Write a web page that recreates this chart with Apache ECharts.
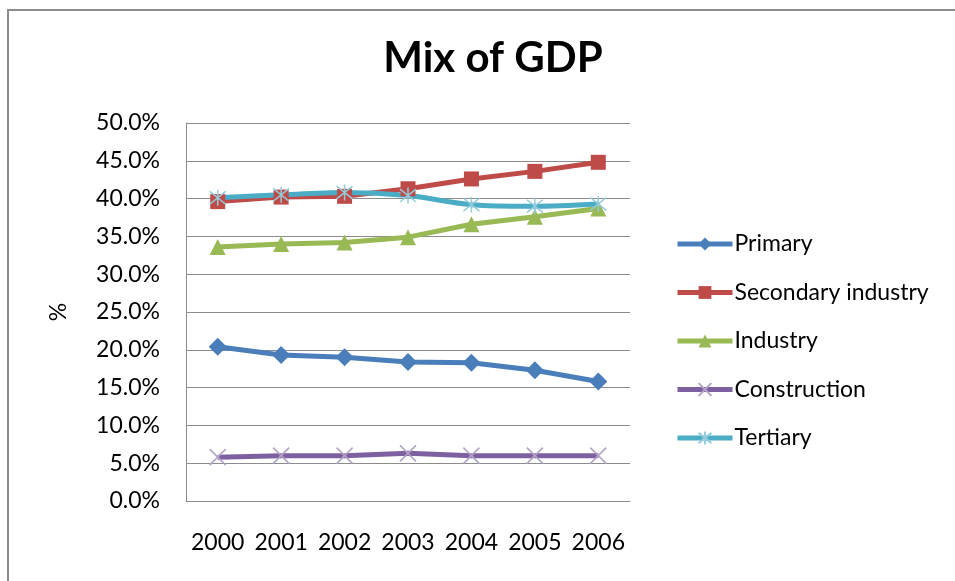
<!DOCTYPE html>
<html>
<head>
<meta charset="utf-8">
<script src="https://cdn.jsdelivr.net/npm/echarts@6/dist/echarts.min.js"></script>
<style>
  html, body { margin: 0; padding: 0; background: #fff; }
  #chart { width: 955px; height: 581px; }
</style>
</head>
<body>
<div id="chart"></div>
<script>
// years on the x axis
var years = ['2000', '2001', '2002', '2003', '2004', '2005', '2006'];
// shares of GDP, in percent
var primary = [20.4, 19.3, 19.0, 18.4, 18.3, 17.3, 15.8];
var secondary = [39.6, 40.2, 40.3, 41.3, 42.6, 43.6, 44.8];
var industry = [33.6, 34.0, 34.2, 34.9, 36.6, 37.6, 38.7];
var construction = [5.8, 6.0, 6.0, 6.3, 6.0, 6.0, 6.0];
var tertiary = [40.1, 40.5, 40.8, 40.4, 39.2, 39.0, 39.3];

var font = 'Lato, "Open Sans", sans-serif';
var crossPath = 'path://M0,0L10,10M10,0L0,10';
var starPath = 'path://M5,0L5,10M1,1L9,9M9,1L1,9';

function lineSeries(name, data, color, symbol, size, markerColor, stroked, smooth) {
    var s = {
        name: name,
        type: 'line',
        data: data,
        smooth: smooth || false,
        symbol: symbol,
        symbolSize: size,
        showAllSymbol: true,
        lineStyle: { color: color, width: 5 },
        itemStyle: { color: markerColor }
    };
    if (stroked) {
        s.itemStyle = { color: 'rgba(0,0,0,0)', borderColor: markerColor, borderWidth: 1.5 };
    }
    return s;
}

var myChart = echarts.init(document.getElementById('chart'));
var option = {
    backgroundColor: '#fff',
    animation: false,
    title: {
        text: 'Mix of GDP',
        left: 488,
        textAlign: 'center',
        top: 32,
        textStyle: { fontFamily: font, fontSize: 42, fontWeight: 'bold', color: '#000' }
    },
    graphic: [{
        type: 'rect',
        shape: { x: 8, y: 10, width: 1200, height: 1200 },
        style: { fill: 'none', stroke: '#8c8c8c', lineWidth: 2 },
        z: -1
    }],
    legend: {
        orient: 'vertical',
        left: 670,
        top: 227,
        itemWidth: 55,
        itemHeight: 16,
        itemGap: 24.5,
        lineStyle: { width: 5 },
        textStyle: { fontFamily: font, fontSize: 23, color: '#000', lineHeight: 24, padding: [0, 0, 0, -3] },
        data: ['Primary', 'Secondary industry', 'Industry', 'Construction', 'Tertiary']
    },
    grid: { left: 186, right: 325, top: 123, bottom: 80 },
    xAxis: {
        type: 'category',
        data: years,
        boundaryGap: true,
        axisLine: { lineStyle: { color: '#8c8c8c', width: 1 } },
        axisTick: { show: false },
        axisLabel: { interval: 0, hideOverlap: false, margin: 30, fontFamily: font, fontSize: 23, color: '#000' }
    },
    yAxis: {
        type: 'value',
        min: 0,
        max: 50,
        interval: 5,
        name: '%',
        nameLocation: 'middle',
        nameGap: 116,
        nameRotate: 90,
        nameTextStyle: { fontFamily: font, fontSize: 23, color: '#000' },
        axisLine: { show: true, lineStyle: { color: '#8c8c8c', width: 1 } },
        axisTick: { show: false },
        splitLine: { lineStyle: { color: '#8c8c8c', width: 1 } },
        axisLabel: {
            margin: 26,
            fontFamily: font,
            fontSize: 23,
            color: '#000',
            formatter: function (v) { return v.toFixed(1) + '%'; }
        }
    },
    series: [
        lineSeries('Primary', primary, '#4a7ebb', 'diamond', 18, '#4a7ebb'),
        lineSeries('Secondary industry', secondary, '#be4b48', 'rect', 15, '#be4b48'),
        lineSeries('Industry', industry, '#98b954', 'triangle', 16, '#98b954'),
        lineSeries('Construction', construction, '#7d60a0', crossPath, 16, '#b3a2c7', true),
        lineSeries('Tertiary', tertiary, '#4bacc6', starPath, 16, '#93cddd', true, 0.3)
    ]
};
myChart.setOption(option);
</script>
</body>
</html>
